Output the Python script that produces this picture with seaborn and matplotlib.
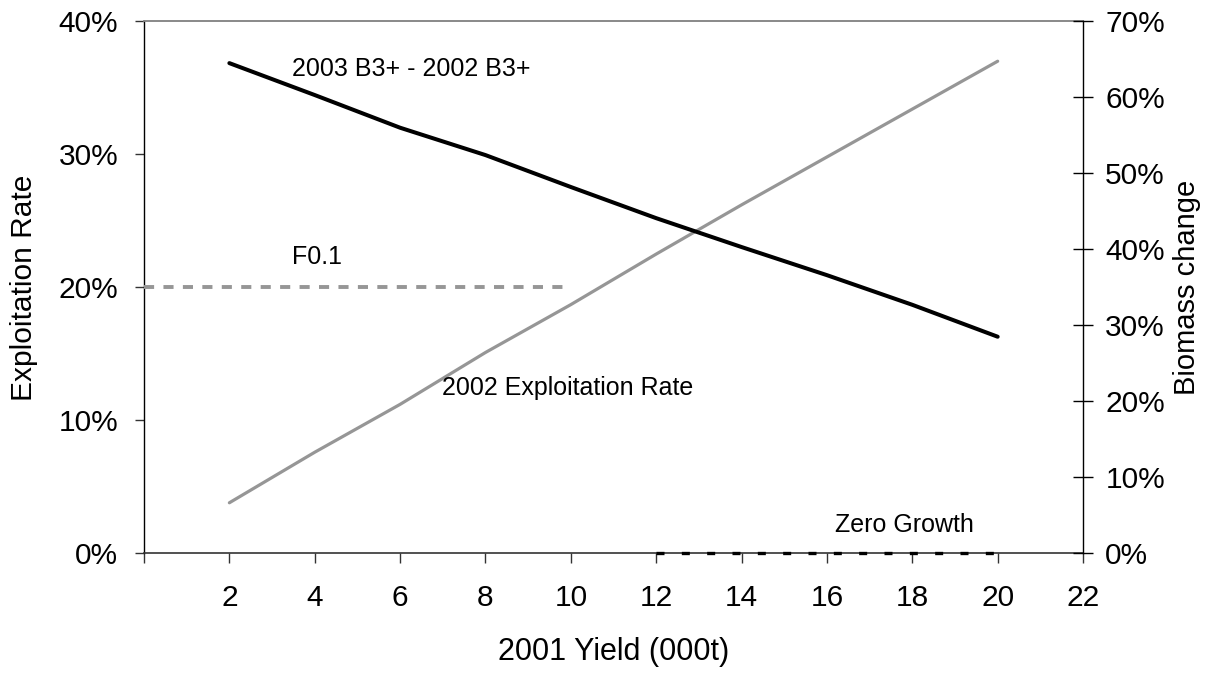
import matplotlib
matplotlib.use("Agg")
import matplotlib.pyplot as plt
import pandas as pd
import seaborn as sns
from matplotlib.ticker import PercentFormatter, FixedLocator

# Yield scenarios (000t) and the two response series (in %)
yield_kt = [2, 4, 6, 8, 10, 12, 14, 16, 18, 20]
exploitation_rate = [3.8, 7.6, 11.2, 15.1, 18.7, 22.5, 26.2, 29.8, 33.4, 37.0]
biomass_change = [64.5, 60.3, 56.0, 52.4, 48.2, 44.1, 40.3, 36.6, 32.7, 28.5]

# Reference levels
f01_x = [0, 10]
f01_rate = [20, 20]
zero_x = [12, 20]
zero_change = [0, 0]

x_ticks = [0, 2, 4, 6, 8, 10, 12, 14, 16, 18, 20, 22]
x_labels = ["", "2", "4", "6", "8", "10", "12", "14", "16", "18", "20", "22"]
left_ticks = [0, 10, 20, 30, 40]
right_ticks = [0, 10, 20, 30, 40, 50, 60, 70]

sns.set_theme(style="white")
plt.rcParams["font.family"] = ["Liberation Sans", "DejaVu Sans"]

df = pd.DataFrame({"yield": yield_kt, "rate": exploitation_rate, "change": biomass_change})
f01 = pd.DataFrame({"yield": f01_x, "rate": f01_rate})
zero = pd.DataFrame({"yield": zero_x, "change": zero_change})

GRAY = "#969696"
TICK_SIZE = 21.5

fig = plt.figure(figsize=(12.07, 6.77), dpi=100)
ax = fig.add_axes([0.1193, 0.1827, 0.778, 0.7858])
ax2 = ax.twinx()

# Left axis: exploitation rate and F0.1 reference
sns.lineplot(data=df, x="yield", y="rate", ax=ax, color=GRAY, lw=2.3, zorder=3)
sns.lineplot(data=f01, x="yield", y="rate", ax=ax, color=GRAY, lw=2.8, zorder=3)
ax.lines[-1].set_linestyle((0, (2.6, 2.4)))

# Right axis: biomass change and zero-growth reference
sns.lineplot(data=df, x="yield", y="change", ax=ax2, color="black", lw=2.9, zorder=3)
sns.lineplot(data=zero, x="yield", y="change", ax=ax2, color="black", lw=2.4, zorder=4)
zl = ax2.lines[-1]
zl.set_linestyle((0, (2.4, 5.2)))
zl.set_clip_on(False)

ax.set_xlim(0, 22)
ax.set_ylim(0, 40)
ax2.set_ylim(0, 70)

ax.xaxis.set_major_locator(FixedLocator(x_ticks))
ax.set_xticklabels(x_labels)
ax.yaxis.set_major_locator(FixedLocator(left_ticks))
ax2.yaxis.set_major_locator(FixedLocator(right_ticks))
ax.yaxis.set_major_formatter(PercentFormatter(decimals=0))
ax2.yaxis.set_major_formatter(PercentFormatter(decimals=0))

ax.tick_params(axis="x", bottom=True, direction="out", length=7, width=1,
               color="#333333", pad=15, labelsize=TICK_SIZE, labelcolor="black")
ax.tick_params(axis="y", left=True, direction="out", length=6.5, width=1,
               color="#333333", pad=12, labelsize=TICK_SIZE, labelcolor="black")
ax2.tick_params(axis="y", right=True, direction="inout", length=14, width=1,
                color="black", pad=9, labelsize=TICK_SIZE, labelcolor="black")

# Frame
for name, sp in ax.spines.items():
    sp.set_visible(True)
ax.spines["top"].set_color("#808080")
ax.spines["top"].set_linewidth(1.3)
ax.spines["left"].set_color("black")
ax.spines["left"].set_linewidth(1)
ax.spines["bottom"].set_color("#333333")
ax.spines["bottom"].set_linewidth(1.2)
ax.spines["right"].set_visible(False)
for name in ["top", "left", "bottom"]:
    ax2.spines[name].set_visible(False)
ax2.spines["right"].set_visible(True)
ax2.spines["right"].set_color("black")
ax2.spines["right"].set_linewidth(1)

ax.set_xlabel("2001 Yield (000t)", fontsize=22, color="black")
ax.set_ylabel("Exploitation Rate", fontsize=21.5, color="black")
ax2.set_ylabel("Biomass change", fontsize=21, color="black")
ax.xaxis.set_label_coords(0.5, -0.158)
ax.yaxis.set_label_coords(-0.113, 0.5)
ax2.yaxis.set_label_coords(1.096, 0.5)

# Series annotations
ax.text(3.46, 36.4, "2003 B3+ - 2002 B3+", fontsize=18, ha="left", va="center", color="black")
ax.text(3.46, 22.3, "F0.1", fontsize=18, ha="left", va="center", color="black")
ax.text(6.98, 12.4, "2002 Exploitation Rate", fontsize=18, ha="left", va="center", color="black")
ax.text(16.2, 2.13, "Zero Growth", fontsize=18, ha="left", va="center", color="black")

ax.grid(False)
ax2.grid(False)

fig.savefig("out.png", dpi=100, facecolor="white")
